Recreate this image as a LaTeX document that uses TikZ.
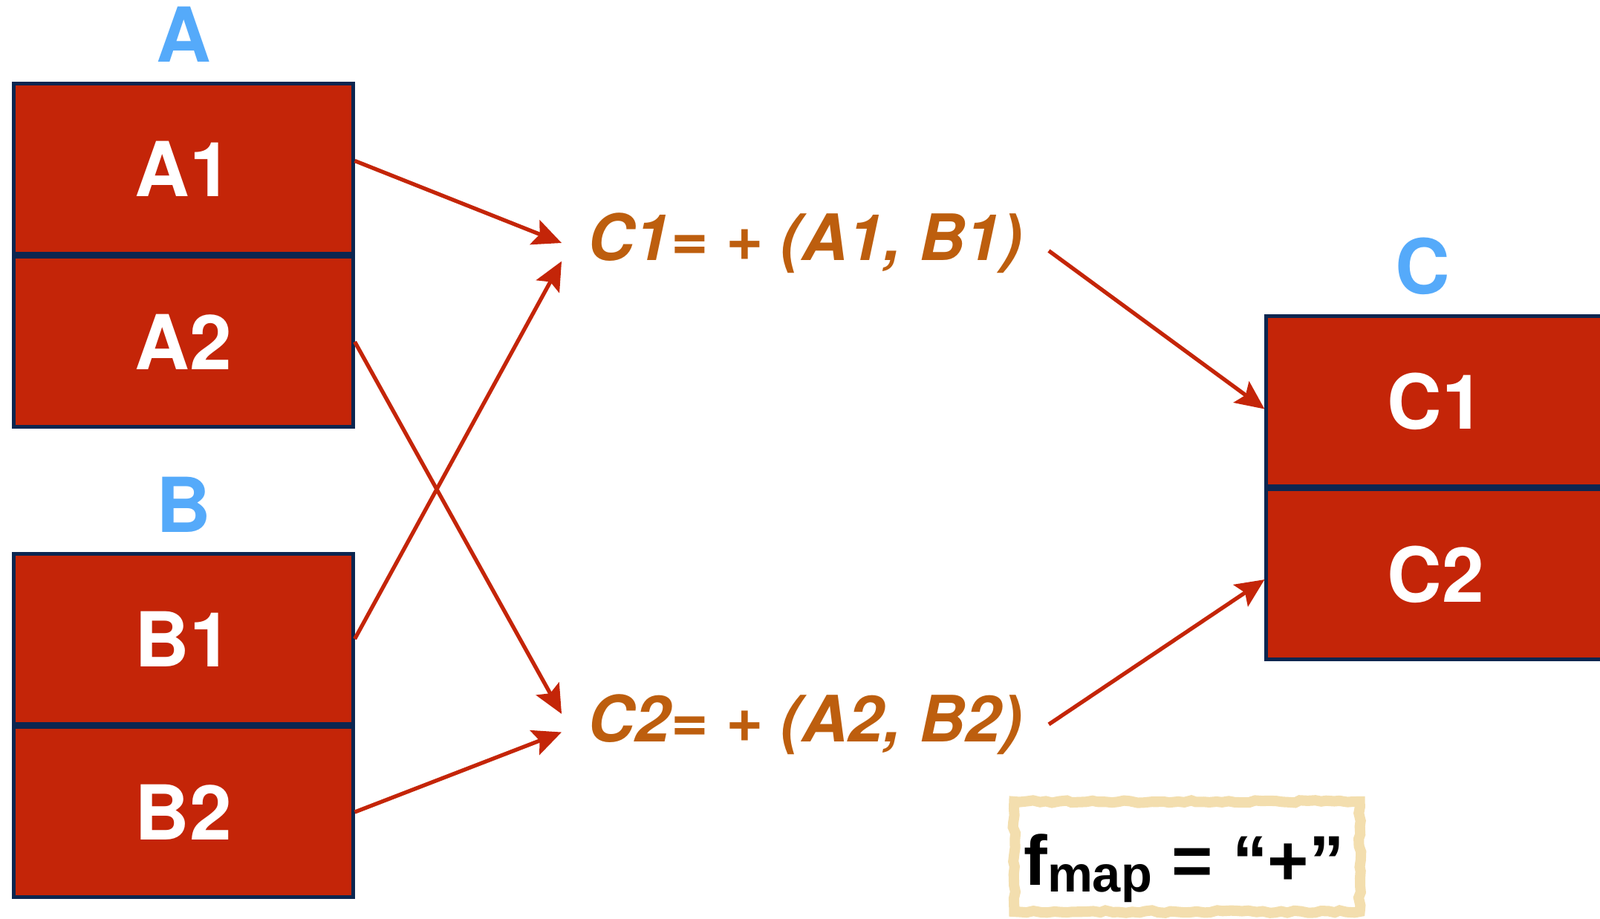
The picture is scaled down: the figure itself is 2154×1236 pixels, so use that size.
\documentclass[tikz,border=0pt]{standalone}
\usepackage{fontspec}
\setmainfont{TeX Gyre Heros}
\newfontfamily\mapfont{Liberation Sans}
\usepackage{xcolor}
\usepackage{tikz}
\usetikzlibrary{arrows.meta,positioning,decorations.pathmorphing}

\definecolor{cellred}{RGB}{196,37,8}
\definecolor{cellline}{RGB}{12,38,80}
\definecolor{setblue}{RGB}{85,170,250}
\definecolor{mapbrown}{RGB}{189,94,14}
\definecolor{framebeige}{RGB}{243,222,174}

\begin{document}
\begin{tikzpicture}[
        x=0.01cm, y=-0.01cm,
        >=Stealth,
        cell/.style={rectangle, draw=cellline, fill=cellred, line width=1.4pt, minimum width=4.56cm, minimum height=2.28cm, text=white, font=\fontsize{29}{29}\selectfont\bfseries},
        setname/.style={text=setblue, font=\fontsize{29}{29}\selectfont\bfseries},
        formula/.style={text=mapbrown, inner xsep=10pt, font=\fontsize{24.5}{24.5}\selectfont\bfseries\itshape},
        arrow/.style={draw=cellred, line width=1.5pt, -{Stealth[length=11pt, width=10pt, inset=2pt]}},
        mapframe/.style={rectangle, draw=framebeige, line width=4pt, minimum width=4.65cm, minimum height=1.48cm, decorate, decoration={random steps, segment length=2.5pt, amplitude=0.5pt}}
    ]
        \useasboundingbox (0,0) rectangle (2154,1236);

        % input collections
        \node[cell] (A1) at (247,227) {A1};
        \node[cell, below=0pt of A1] (A2) {A2};
        \node[setname, above=4pt of A1] (A) {A};

        \node[cell] (B1) at (247,860) {B1};
        \node[cell, below=0pt of B1] (B2) {B2};
        \node[setname, above=4pt of B1] (B) {B};

        % map step
        \node[formula] (C1f) at (1084,327) {C1= + (A1, B1)};
        \node[formula] (C2f) at (1084,975) {C2= + (A2, B2)};

        % output collection
        \node[cell] (C1) at (1933,540) {C1};
        \node[cell, below=0pt of C1] (C2) {C2};
        \node[setname, above=4pt of C1, xshift=-5pt] (C) {C};

        \draw[arrow] ([yshift=3pt]A1.east) -- (C1f.west);
        \draw[arrow] (B1.east) -- ([yshift=-7pt]C1f.west);
        \draw[arrow] (A2.east) -- ([yshift=4pt]C2f.west);
        \draw[arrow] (B2.east) -- ([yshift=-3pt]C2f.west);
        \draw[arrow] ([yshift=-3pt]C1f.east) -- ([yshift=-3pt]C1.west);
        \draw[arrow] (C2f.east) -- ([yshift=-2pt]C2.west);

        % map function
        \node[mapframe] (fbox) at (1598,1153) {};
        \node[font=\mapfont\fontsize{27}{27}\selectfont\bfseries] (fmap) at (1594,1169) {f\raisebox{-2.6pt}{\fontsize{19.5}{19.5}\selectfont map} = “+”};
    \end{tikzpicture}
\end{document}
